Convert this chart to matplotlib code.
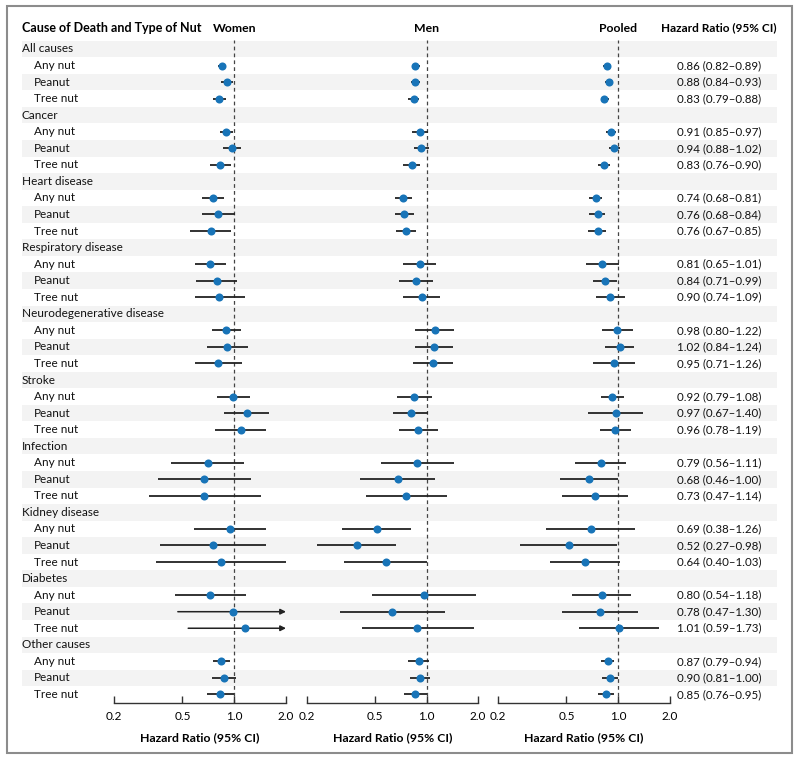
import matplotlib
matplotlib.use("Agg")
import matplotlib.pyplot as plt
from matplotlib.patches import Rectangle
import numpy as np

plt.rcParams['font.family'] = ['Lato', 'DejaVu Sans']

categories = ["All causes", "Cancer", "Heart disease", "Respiratory disease",
              "Neurodegenerative disease", "Stroke", "Infection", "Kidney disease",
              "Diabetes", "Other causes"]
nut_types = ["Any nut", "Peanut", "Tree nut"]

women_hr = [0.85, 0.91, 0.82, 0.90, 0.97, 0.83, 0.75, 0.81, 0.73, 0.72, 0.79, 0.82,
            0.90, 0.91, 0.81, 0.99, 1.18, 1.09, 0.70, 0.67, 0.67, 0.94, 0.75, 0.84,
            0.72, 0.98, 1.15, 0.84, 0.87, 0.83]
women_lo = [0.81, 0.84, 0.75, 0.83, 0.86, 0.72, 0.65, 0.65, 0.55, 0.59, 0.60, 0.59,
            0.74, 0.69, 0.59, 0.79, 0.87, 0.77, 0.43, 0.36, 0.32, 0.58, 0.37, 0.35,
            0.45, 0.47, 0.54, 0.75, 0.74, 0.69]
women_hi = [0.90, 0.99, 0.90, 0.98, 1.10, 0.96, 0.87, 1.01, 0.96, 0.89, 1.04, 1.15,
            1.10, 1.20, 1.11, 1.24, 1.60, 1.54, 1.14, 1.26, 1.43, 1.53, 1.53, 1.99,
            1.17, 2.10, 2.40, 0.94, 1.03, 1.00]

men_hr = [0.86, 0.86, 0.84, 0.92, 0.93, 0.82, 0.73, 0.74, 0.76, 0.91, 0.87, 0.94,
          1.12, 1.11, 1.09, 0.85, 0.81, 0.89, 0.88, 0.68, 0.76, 0.51, 0.39, 0.58,
          0.97, 0.63, 0.88, 0.90, 0.92, 0.86]
men_lo = [0.82, 0.81, 0.78, 0.82, 0.84, 0.73, 0.65, 0.65, 0.66, 0.73, 0.69, 0.73,
          0.86, 0.86, 0.83, 0.67, 0.64, 0.69, 0.54, 0.41, 0.44, 0.32, 0.23, 0.33,
          0.48, 0.31, 0.42, 0.78, 0.80, 0.74]
men_hi = [0.92, 0.91, 0.90, 1.02, 1.03, 0.92, 0.82, 0.84, 0.87, 1.14, 1.09, 1.20,
          1.45, 1.42, 1.43, 1.07, 1.02, 1.17, 1.45, 1.12, 1.32, 0.81, 0.66, 1.00,
          1.94, 1.29, 1.90, 1.03, 1.05, 1.00]

pooled_hr = [0.86, 0.88, 0.83, 0.91, 0.94, 0.83, 0.74, 0.76, 0.76, 0.81, 0.84, 0.90,
             0.98, 1.02, 0.95, 0.92, 0.97, 0.96, 0.79, 0.68, 0.73, 0.69, 0.52, 0.64,
             0.80, 0.78, 1.01, 0.87, 0.90, 0.85]
pooled_lo = [0.82, 0.84, 0.79, 0.85, 0.88, 0.76, 0.68, 0.68, 0.67, 0.65, 0.71, 0.74,
             0.80, 0.84, 0.71, 0.79, 0.67, 0.78, 0.56, 0.46, 0.47, 0.38, 0.27, 0.40,
             0.54, 0.47, 0.59, 0.79, 0.81, 0.76]
pooled_hi = [0.89, 0.93, 0.88, 0.97, 1.02, 0.90, 0.81, 0.84, 0.85, 1.01, 0.99, 1.09,
             1.22, 1.24, 1.26, 1.08, 1.40, 1.19, 1.11, 1.00, 1.14, 1.26, 0.98, 1.03,
             1.18, 1.30, 1.73, 0.94, 1.00, 0.95]

panel_titles = ["Women", "Men", "Pooled"]
tick_vals = [0.2, 0.5, 1.0, 2.0]
tick_labels = ["0.2", "0.5", "1.0", "2.0"]

# ---------------- layout (pixels) ----------------
W, H = 800, 762
row0, dy = 49.0, 16.55
ax_top, ax_bot = 40.0, 703.0
panel_x = [(114, 286), (307, 478), (498, 670)]
blue = '#1874b8'
dark = '#222222'
fs = 8.5

fig = plt.figure(figsize=(W / 100, H / 100), dpi=100)
bg = fig.add_axes([0, 0, 1, 1])
bg.set_xlim(0, W)
bg.set_ylim(H, 0)
bg.axis('off')

rows = []
for c in categories:
    rows.append((c, True))
    for n in nut_types:
        rows.append((n, False))

for i, (lab, is_cat) in enumerate(rows):
    y = row0 + i * dy
    if i % 2 == 0:
        bg.add_patch(Rectangle((22, y - dy / 2), 777 - 22, dy, facecolor='#f3f3f3',
                               edgecolor='none', zorder=0))
    bg.text(22 if is_cat else 34, y, lab, fontsize=fs, va='center', ha='left', color='#111111')

k = 0
for i, (lab, is_cat) in enumerate(rows):
    if is_cat:
        continue
    y = row0 + i * dy
    bg.text(719, y, f"{pooled_hr[k]:.2f} ({pooled_lo[k]:.2f}\u2013{pooled_hi[k]:.2f})",
            fontsize=fs - 0.2, va='center', ha='center', color='#111111')
    k += 1

bg.text(22, 28, "Cause of Death and Type of Nut", fontsize=fs + 0.5, fontweight='bold',
        va='center', ha='left')
bg.text(719, 28, "Hazard Ratio (95% CI)", fontsize=fs, fontweight='bold',
        va='center', ha='center')

bg.add_patch(Rectangle((7, 6), 785, 747, facecolor='none', edgecolor='#8c8c8c',
                       linewidth=1.5, zorder=5))

r_top = (ax_top - row0) / dy
r_bot = (ax_bot - row0) / dy

datasets = [(women_hr, women_lo, women_hi), (men_hr, men_lo, men_hi),
            (pooled_hr, pooled_lo, pooled_hi)]

for p, ((x0, x1), (hr, lo, hi), title) in enumerate(zip(panel_x, datasets, panel_titles)):
    ax = fig.add_axes([x0 / W, 1 - ax_bot / H, (x1 - x0) / W, (ax_bot - ax_top) / H])
    ax.set_facecolor('none')
    ax.set_xscale('log')
    ax.set_xlim(0.2, 2.0)
    ax.set_ylim(r_bot, r_top)
    for s in ['top', 'right', 'left']:
        ax.spines[s].set_visible(False)
    ax.spines['bottom'].set_color('#333333')
    ax.spines['bottom'].set_linewidth(1.0)
    ax.set_yticks([])
    ax.set_xticks(tick_vals)
    ax.set_xticklabels(tick_labels)
    ax.xaxis.set_minor_locator(matplotlib.ticker.NullLocator())
    ax.tick_params(axis='x', direction='in', length=5, width=1.0, color='#333333',
                   labelsize=fs, pad=6)
    ax.axvline(1.0, color='#444444', linestyle=(0, (3, 2.5)), linewidth=0.9, zorder=1)
    ax.set_xlabel("Hazard Ratio (95% CI)", fontsize=fs + 0.3, fontweight='bold', labelpad=7)

    k = 0
    for i, (lab, is_cat) in enumerate(rows):
        if is_cat:
            continue
        h, l, u = hr[k], lo[k], hi[k]
        if u > 2.0:
            ax.annotate('', xy=(2.0, i), xytext=(l, i),
                        arrowprops=dict(arrowstyle='-|>', color=dark, lw=1.1,
                                        mutation_scale=8, shrinkA=0, shrinkB=0),
                        zorder=2)
        else:
            ax.plot([l, u], [i, i], color=dark, lw=1.3, solid_capstyle='butt', zorder=2)
        ax.plot([h], [i], 'o', color=blue, markersize=5.8, markeredgewidth=0, zorder=3)
        k += 1

    bg.text(x0 + (x1 - x0) * (np.log10(1.0) - np.log10(0.2)), 28, title,
            fontsize=fs + 0.3, fontweight='bold', va='center', ha='center')

fig.savefig('out.png', dpi=100)
